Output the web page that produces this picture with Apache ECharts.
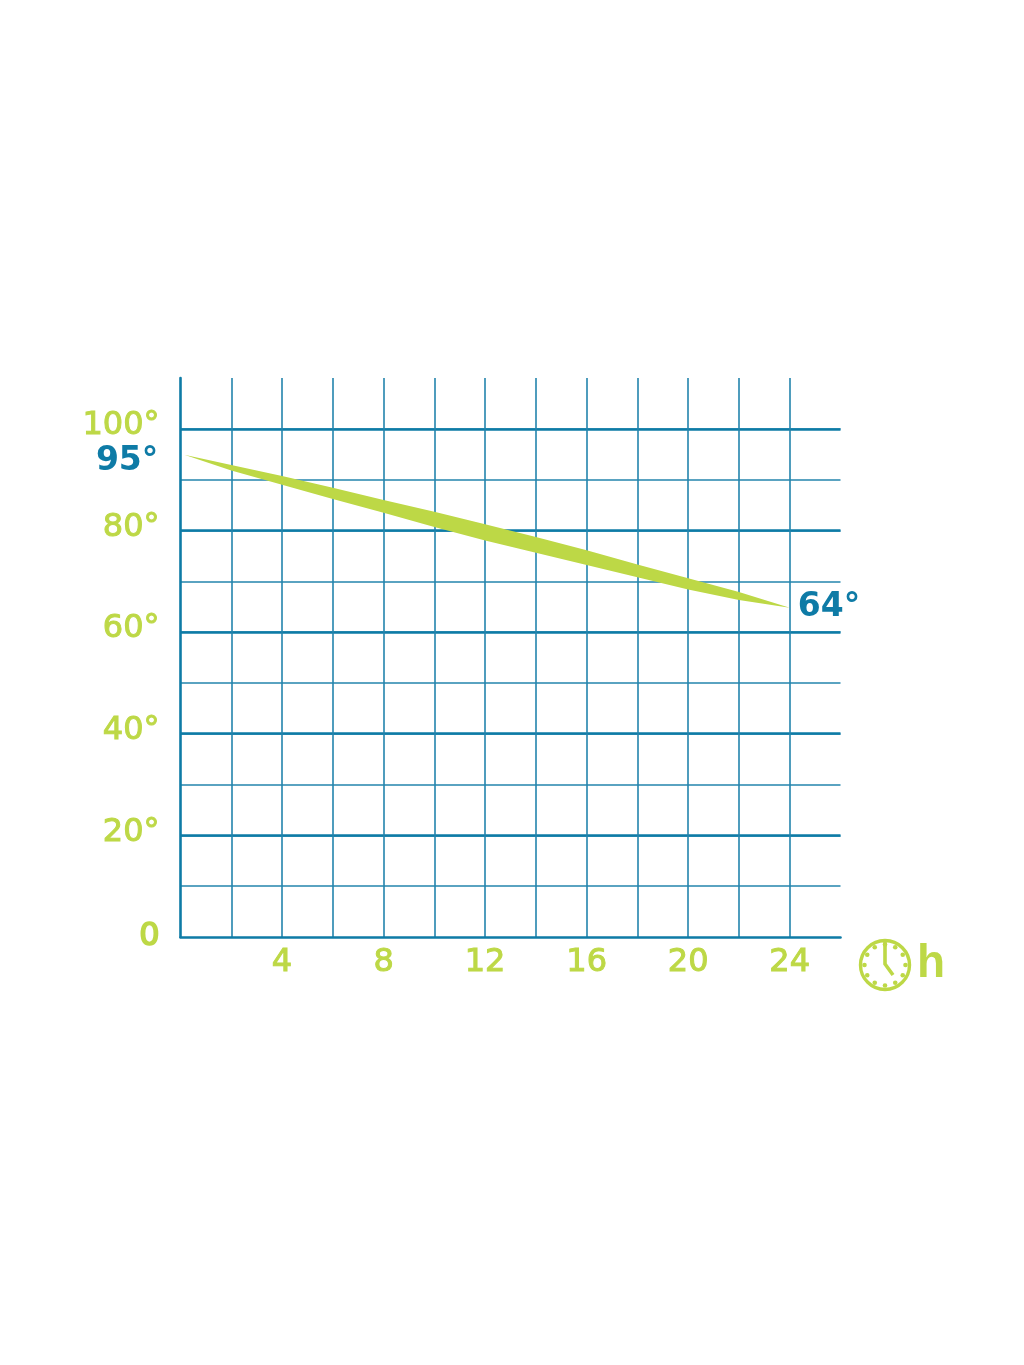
<!DOCTYPE html>
<html><head><meta charset="utf-8">
<style>html,body{margin:0;padding:0;background:#fff}#c{width:1024px;height:1365px}</style>
<script src="https://cdn.jsdelivr.net/npm/echarts@6/dist/echarts.min.js"></script>
</head><body><div id="c"></div>
<script>
const hours      = [0.15, 2,    4,    6,    8,    10,   12,   14,   16,   18,   20,   22,   24];
const upperEdge  = [94.9, 92.9, 90.7, 88.4, 86.0, 83.7, 81.2, 78.7, 76.1, 73.3, 70.6, 67.9, 64.8];
const lowerEdge  = [94.9, 91.8, 89.0, 86.2, 83.5, 80.7, 78.0, 75.6, 73.2, 70.8, 68.4, 66.3, 64.8];
const yLabels    = [0, 20, 40, 60, 80, 100];
const xLabels    = [4, 8, 12, 16, 20, 24];
const startLabel = {hour: 0.15, value: 94.9, text: '95°'};
const endLabel   = {hour: 24, value: 64.8, text: '64°'};
const unitLabel  = 'h';

const GREEN = '#bdd846', BLUE = '#0e7ba6', BLUE_THIN = '#2384ad';
const FONT = '"DejaVu Sans"';
const clockX = 885, clockY = 965, clockR = 24.5;
const dots = [];
for (let i = 0; i < 12; i++) {
  const a = i * Math.PI / 6;
  dots.push({type:'circle', shape:{cx:clockX + Math.sin(a)*20.5, cy:clockY - Math.cos(a)*20.5, r:2.3}, style:{fill:GREEN}});
}
const chart = echarts.init(document.getElementById('c'), null, {renderer:'canvas'});
chart.setOption({
  animation:false,
  backgroundColor:'#fff',
  grid:{left:180.5, top:378, width:660, height:559, containLabel:false},
  xAxis:{
    type:'value', min:0, max:26, interval:2,
    axisLine:{show:true, onZero:false, lineStyle:{color:BLUE, width:2.6}},
    axisTick:{show:false},
    splitLine:{show:true, showMinLine:false, showMaxLine:false, lineStyle:{color:BLUE_THIN, width:1.6}},
    axisLabel:{
      color:GREEN, fontFamily:FONT, fontSize:32, margin:10,
      textBorderColor:GREEN, textBorderWidth:1,
      showMinLabel:false, showMaxLabel:false,
      formatter:v => xLabels.includes(v) ? String(v) : ''
    }
  },
  yAxis:[{
    type:'value', min:0, max:110, interval:10,
    axisLine:{show:true, onZero:false, lineStyle:{color:BLUE, width:2.6}},
    axisTick:{show:false},
    axisLabel:{show:false},
    splitLine:{show:true, showMinLine:false, showMaxLine:false, lineStyle:{color:BLUE_THIN, width:1.6}}
  },{
    type:'value', min:0, max:110, interval:20, position:'left',
    axisLine:{show:false}, axisTick:{show:false},
    splitLine:{show:true, showMinLine:false, showMaxLine:false, lineStyle:{color:BLUE, width:2.6}},
    axisLabel:{
      show:true, margin:21, showMaxLabel:false,
      formatter:v => yLabels.includes(v) ? (v === 0 ? '{z|0}' : '{d|' + v + '°}') : '',
      rich:{
        d:{color:GREEN, fontFamily:FONT, fontSize:32, textBorderColor:GREEN, textBorderWidth:1, padding:[0,0,6,0]},
        z:{color:GREEN, fontFamily:FONT, fontSize:32, textBorderColor:GREEN, textBorderWidth:1.6, padding:[0,0,0,0]}
      }
    }
  }],
  series:[{
    type:'custom', coordinateSystem:'cartesian2d', xAxisIndex:0, yAxisIndex:0, z:5, clip:false,
    data:[0],
    renderItem:(params, api) => {
      const pts = [];
      hours.forEach((h,i) => pts.push(api.coord([h, upperEdge[i]])));
      for (let i = hours.length - 1; i >= 0; i--) pts.push(api.coord([hours[i], lowerEdge[i]]));
      return {type:'polygon', shape:{points:pts, smooth:0}, style:{fill:GREEN}};
    }
  },{
    type:'scatter', xAxisIndex:0, yAxisIndex:0, symbolSize:0, z:6, clip:false,
    itemStyle:{opacity:1},
    data:[{
      value:[startLabel.hour, startLabel.value], name:startLabel.text,
      label:{show:true, position:'left', distance:26, offset:[0,7], formatter:startLabel.text, color:BLUE, fontFamily:FONT, fontWeight:'bold', fontSize:33, opacity:1}
    },{
      value:[endLabel.hour, endLabel.value], name:endLabel.text,
      label:{show:true, position:'right', distance:8, offset:[0,0], formatter:endLabel.text, color:BLUE, fontFamily:FONT, fontWeight:'bold', fontSize:33, opacity:1}
    }]
  }],
  graphic:[{
    type:'group', silent:true,
    children:[
      {type:'circle', shape:{cx:clockX, cy:clockY, r:clockR}, style:{fill:'none', stroke:GREEN, lineWidth:3.4}},
      ...dots,
      {type:'polyline', shape:{points:[[clockX,942],[clockX,964],[clockX+8,975]]}, style:{fill:'none', stroke:GREEN, lineWidth:3.6}},
      {type:'text', style:{text:unitLabel, x:917, y:987, verticalAlign:'bottom', align:'left', fill:GREEN, font:'bold 46px "Liberation Sans"'}}
    ]
  }]
});
</script></body></html>
